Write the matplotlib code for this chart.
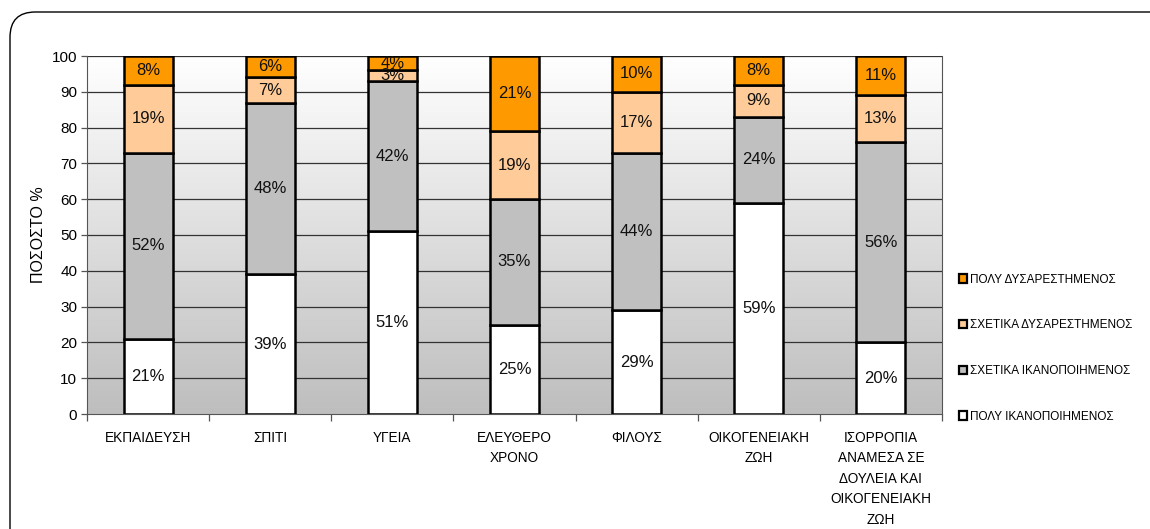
import matplotlib
matplotlib.use("Agg")
import matplotlib.pyplot as plt
import numpy as np
from matplotlib.patches import FancyBboxPatch, Patch

plt.rcParams['font.family'] = ['Liberation Sans', 'DejaVu Sans']

categories = ["ΕΚΠΑΙΔΕΥΣΗ", "ΣΠΙΤΙ", "ΥΓΕΙΑ", "ΕΛΕΥΘΕΡΟ\nΧΡΟΝΟ", "ΦΙΛΟΥΣ",
              "ΟΙΚΟΓΕΝΕΙΑΚΗ\nΖΩΗ",
              "ΙΣΟΡΡΟΠΙΑ\nΑΝΑΜΕΣΑ ΣΕ\nΔΟΥΛΕΙΑ ΚΑΙ\nΟΙΚΟΓΕΝΕΙΑΚΗ\nΖΩΗ"]
series_names = ["ΠΟΛΥ ΙΚΑΝΟΠΟΙΗΜΕΝΟΣ", "ΣΧΕΤΙΚΑ ΙΚΑΝΟΠΟΙΗΜΕΝΟΣ",
                "ΣΧΕΤΙΚΑ ΔΥΣΑΡΕΣΤΗΜΕΝΟΣ", "ΠΟΛΥ ΔΥΣΑΡΕΣΤΗΜΕΝΟΣ"]
poly_ikan = [21, 39, 51, 25, 29, 59, 20]
sxet_ikan = [52, 48, 42, 35, 44, 24, 56]
sxet_dys = [19, 7, 3, 19, 17, 9, 13]
poly_dys = [8, 6, 4, 21, 10, 8, 11]
yticks = list(range(0, 101, 10))

series = [poly_ikan, sxet_ikan, sxet_dys, poly_dys]
colors = ["#FFFFFF", "#C0C0C0", "#FFCC99", "#FF9900"]

fig = plt.figure(figsize=(11.5, 5.29), dpi=100)
# outer rounded frame
frame = FancyBboxPatch((10/1150, -0.2), 1.2, (517/529) + 0.2,
                       boxstyle="round,pad=0,rounding_size=0.022",
                       transform=fig.transFigure, facecolor="white",
                       edgecolor="black", linewidth=1.0, mutation_aspect=1150/529,
                       zorder=-5)
fig.patches.append(frame)

ax = fig.add_axes([87/1150, 115/529, (942-87)/1150, (414-56)/529])
ax.set_zorder(2)
n = len(categories)
x = np.arange(n)
ax.set_xlim(-0.5, n - 0.5)
ax.set_ylim(0, 100)

# gradient background
grad = np.linspace(0, 1, 256).reshape(-1, 1)
ax.imshow(grad, extent=(-0.5, n - 0.5, 0, 100), aspect='auto',
          cmap=matplotlib.colors.LinearSegmentedColormap.from_list("g", ["#BEBEBE", "#FFFFFF"]),
          origin='lower', zorder=0)
for yv in yticks[1:]:
    ax.axhline(yv, color="#333333", linewidth=0.9, zorder=1)

bottom = np.zeros(n)
for vals, c in zip(series, colors):
    vals = np.array(vals)
    ax.bar(x, vals, width=0.4, bottom=bottom, color=c, edgecolor="black",
           linewidth=1.8, zorder=3)
    for xi, b, v in zip(x, bottom, vals):
        ax.text(xi, b + v / 2, f"{v}%", ha="center", va="center",
                fontsize=12, color="#111111", zorder=4)
    bottom += vals

ax.set_yticks(yticks)
ax.set_yticklabels([str(t) for t in yticks], fontsize=11)
ax.set_xticks(x)
ax.set_xticklabels(categories, fontsize=9.8, linespacing=1.6, va="top")
ax.tick_params(axis='x', which='major', length=0, pad=12)
ax.set_xticks(np.arange(-0.5, n, 1.0), minor=True)
ax.tick_params(axis='x', which='minor', length=5, width=0.9, color="#555555", direction='out')
ax.tick_params(axis='y', length=4, width=0.9, color="#555555", pad=3)
ax.spines["top"].set_visible(False)
ax.spines["left"].set_color("#555555")
ax.spines["bottom"].set_color("#555555")
ax.spines["right"].set_color("#555555")
ax.set_ylabel("ΠΟΣΟΣΤΟ %", fontsize=11.5, labelpad=4)

handles = [Patch(facecolor=c, edgecolor="black", linewidth=1.6) for c in colors[::-1]]
fig.legend(handles, series_names[::-1], loc="upper left",
           bbox_to_anchor=(948/1150, 1 - 263/529), frameon=False,
           fontsize=8.5, handlelength=0.7, handleheight=0.7, handletextpad=0.3,
           labelspacing=2.85)

fig.savefig("out.png", dpi=100)
